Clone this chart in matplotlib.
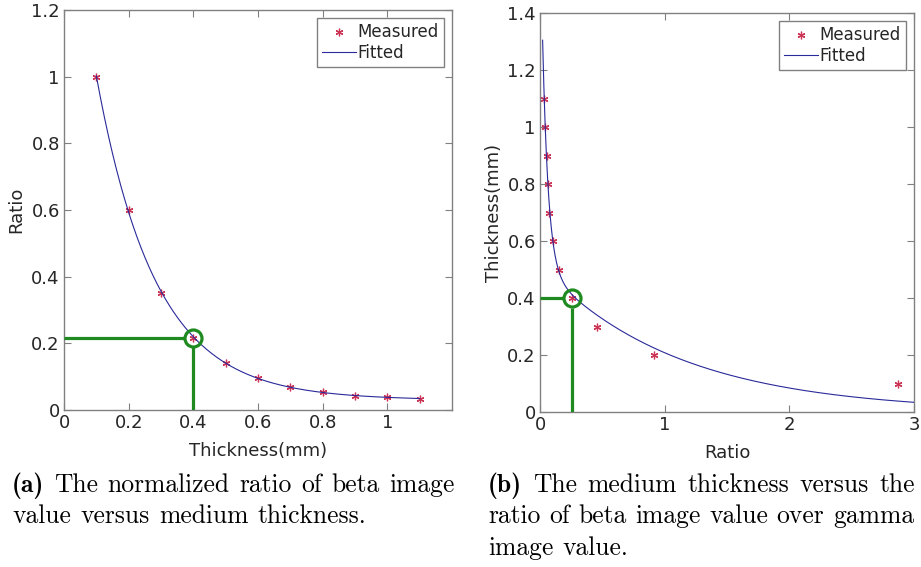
import matplotlib
matplotlib.use("Agg")
import matplotlib.pyplot as plt
import numpy as np

# (a) normalised beta ratio against medium thickness
thickness_a = np.array([0.1, 0.2, 0.3, 0.4, 0.5, 0.6, 0.7, 0.8, 0.9, 1.0, 1.1])
ratio_a = np.array([1.0, 0.601, 0.351, 0.215, 0.142, 0.097, 0.070, 0.053, 0.043, 0.038, 0.033])
marked_a = (0.4, 0.217)

# (b) thickness against beta/gamma ratio
ratio_b = np.array([0.032, 0.040, 0.053, 0.061, 0.075, 0.107, 0.155, 0.259, 0.455, 0.917, 2.87])
thickness_b = np.array([1.1, 1.0, 0.9, 0.8, 0.7, 0.6, 0.5, 0.4, 0.3, 0.2, 0.1])
marked_b = (0.259, 0.40)
# two-term exponential fit: A*exp(-k1*x) + B*exp(-k2*x)
fit_b = (1.27, 22.0, 0.514, 0.905)
fit_b_range = (0.021, 3.0)

captions_a = ["(a) The normalized ratio of beta image", "value versus medium thickness."]
captions_b = ["(b) The medium thickness versus the", "ratio of beta image value over gamma",
              "image value."]

GREEN = "#1f8a1f"
RED = "#cc3355"
NAVY = "#2a2a9a"
TXT = "#262626"


def exp2(x, a, k1, b, k2):
    return a * np.exp(-k1 * x) + b * np.exp(-k2 * x)


def fit_exp2(x, y):
    best = None
    for k1 in np.linspace(1.0, 15.0, 141):
        for k2 in np.linspace(0.05, 5.0, 100):
            if k2 >= k1:
                continue
            m = np.column_stack([np.exp(-k1 * x), np.exp(-k2 * x)])
            coef = np.linalg.lstsq(m, y, rcond=None)[0]
            err = np.sum((m @ coef - y) ** 2)
            if best is None or err < best[0]:
                best = (err, coef[0], k1, coef[1], k2)
    return best[1:]


def style_axes(ax):
    for s in ax.spines.values():
        s.set_color("#808080")
        s.set_linewidth(1.0)
    ax.tick_params(direction="in", top=True, right=True, length=5, width=0.8,
                   color="#808080", labelsize=13, labelcolor=TXT, pad=3)
    fmt = matplotlib.ticker.FuncFormatter(lambda v, p: f"{v:g}")
    ax.xaxis.set_major_formatter(fmt)
    ax.yaxis.set_major_formatter(fmt)


def mark_point(ax, x0, y0, r=8.5):
    # green guide lines stop at the edge of the circle
    inv = ax.transData.inverted()
    cx, cy = ax.transData.transform((x0, y0))
    xl = inv.transform((cx - r - 1, cy))[0]
    yb = inv.transform((cx, cy - r - 1))[1]
    ax.plot([0, xl], [y0, y0], color=GREEN, lw=2.3, solid_capstyle="butt", zorder=4)
    ax.plot([x0, x0], [0, yb], color=GREEN, lw=2.3, solid_capstyle="butt", zorder=4)
    ax.plot(x0, y0, "o", mfc="none", mec=GREEN, ms=2 * r * 0.72, mew=2.3, zorder=5)


asterisk = (6, 2, 0)

fig = plt.figure(figsize=(9.21, 5.67), dpi=100)

ax1 = fig.add_axes([64 / 921, 1 - 410 / 567, 388 / 921, 400 / 567])
ax1.set_xlim(0, 1.2)
ax1.set_ylim(0, 1.2)
ax1.set_xticks([0, 0.2, 0.4, 0.6, 0.8, 1.0])
ax1.set_yticks([0, 0.2, 0.4, 0.6, 0.8, 1.0, 1.2])
style_axes(ax1)
pa = fit_exp2(thickness_a, ratio_a)
xa = np.linspace(thickness_a.min(), thickness_a.max(), 400)
ax1.plot(thickness_a, ratio_a, ls="none", marker=asterisk, ms=5.5, mew=0.9,
         color=RED, label="Measured", zorder=2)
ax1.plot(xa, exp2(xa, *pa), color=NAVY, lw=0.8, label="Fitted", zorder=3)
mark_point(ax1, *marked_a)
ax1.set_xlabel("Thickness(mm)", fontsize=13, color=TXT)
ax1.set_ylabel("Ratio", fontsize=13, color=TXT)
ax1.xaxis.set_label_coords(0.5, -0.079)
ax1.yaxis.set_label_coords(-0.1005, 0.5)

ax2 = fig.add_axes([540 / 921, 1 - 412 / 567, 374 / 921, 399 / 567])
ax2.set_xlim(0, 3)
ax2.set_ylim(0, 1.4)
ax2.set_xticks([0, 1, 2, 3])
ax2.set_yticks([0, 0.2, 0.4, 0.6, 0.8, 1.0, 1.2, 1.4])
style_axes(ax2)
xb = np.linspace(*fit_b_range, 600)
ax2.plot(ratio_b, thickness_b, ls="none", marker=asterisk, ms=5.5, mew=0.9,
         color=RED, label="Measured", zorder=2)
ax2.plot(xb, exp2(xb, *fit_b), color=NAVY, lw=0.8, label="Fitted", zorder=3)
mark_point(ax2, *marked_b)
ax2.set_xlabel("Ratio", fontsize=13, color=TXT)
ax2.set_ylabel("Thickness(mm)", fontsize=13, color=TXT)
ax2.xaxis.set_label_coords(0.5, -0.08)
ax2.yaxis.set_label_coords(-0.099, 0.5)

for ax in (ax1, ax2):
    leg = ax.legend(loc="upper right", fontsize=12, frameon=True, fancybox=False,
                    framealpha=1, edgecolor="#808080", handlelength=2.0,
                    handletextpad=0.1, borderpad=0.3, labelspacing=0.15,
                    borderaxespad=0.5)
    leg.get_frame().set_linewidth(1.0)
    for t in leg.get_texts():
        t.set_color(TXT)

# captions in Computer Modern; full lines are justified word by word
renderer = fig.canvas.get_renderer()
cap = dict(fontsize=18.4, color="black", va="baseline", ha="left")


def caption_line(x0, x1, yb, text, bold_first=False, justify=True):
    words = text.split(" ")
    arts = []
    for i, w in enumerate(words):
        fam = "cmb10" if (bold_first and i == 0) else "cmr10"
        arts.append(fig.text(0, 1 - yb / 567, w, fontfamily=fam, **cap))
    widths = [a.get_window_extent(renderer).width for a in arts]
    if justify:
        gap = (x1 - x0 - sum(widths)) / (len(words) - 1)
    else:
        gap = 0.333 * cap["fontsize"] * 100 / 72 * 1.1
    x = x0
    for a, w in zip(arts, widths):
        a.set_x(x / 921)
        x += w + gap


caption_line(12, 455, 492, captions_a[0], bold_first=True)
caption_line(12, 455, 523, captions_a[1], justify=False)
caption_line(488, 915, 492, captions_b[0], bold_first=True)
caption_line(488, 914, 523, captions_b[1])
caption_line(488, 915, 555, captions_b[2], justify=False)

fig.savefig("out.png", dpi=100)
